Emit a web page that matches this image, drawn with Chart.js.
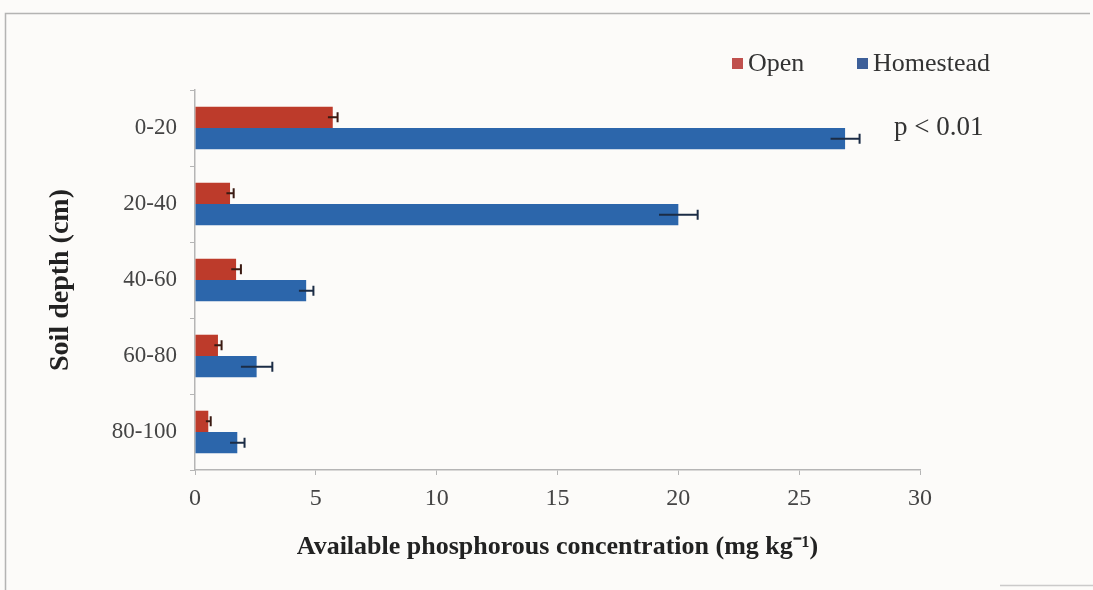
<!DOCTYPE html>
<html>
<head>
<meta charset="utf-8">
<script src="https://cdn.jsdelivr.net/npm/chart.js@4.4.1/dist/chart.umd.min.js"></script>
<style>
  html, body { margin: 0; padding: 0; background: #fcfbf9; }
  canvas { display: block; }
</style>
</head>
<body>
<canvas id="chart" width="1093" height="590"></canvas>
<script>
// Soil depth classes (cm)
const depths = ['0-20', '20-40', '40-60', '60-80', '80-100'];

// Available phosphorus, mg kg-1: means and standard errors
const openMeans = [5.7, 1.45, 1.7, 0.95, 0.55];
const openErrors = [0.2, 0.15, 0.2, 0.15, 0.1];
const homesteadMeans = [26.9, 20.0, 4.6, 2.55, 1.75];
const homesteadErrors = [0.6, 0.8, 0.3, 0.65, 0.3];

const xTicks = [0, 5, 10, 15, 20, 25, 30];
const significanceNote = 'p < 0.01';

const serif = '"Liberation Serif", "Times New Roman", serif';

// Paper-like background and a thin frame around the figure
const framePlugin = {
  id: 'frame',
  beforeDraw(chart) {
    const ctx = chart.ctx;
    ctx.save();
    ctx.fillStyle = '#fcfbf9';
    ctx.fillRect(0, 0, chart.width, chart.height);
    ctx.strokeStyle = 'rgba(150,150,150,0.7)';
    ctx.lineWidth = 1.5;
    ctx.beginPath();
    ctx.moveTo(5.5, chart.height);
    ctx.lineTo(5.5, 13.5);
    ctx.lineTo(chart.width - 3, 13.5);
    ctx.stroke();
    ctx.strokeStyle = 'rgba(170,170,170,0.6)';
    ctx.beginPath();
    ctx.moveTo(1000, chart.height - 4.5);
    ctx.lineTo(chart.width, chart.height - 4.5);
    ctx.stroke();
    ctx.restore();
  }
};

// Error bars: whisker from mean-err to mean+err with a cap at the outer end
const errorBarPlugin = {
  id: 'errorBars',
  afterDatasetsDraw(chart) {
    const ctx = chart.ctx;
    const xs = chart.scales.x;
    chart.data.datasets.forEach((ds, i) => {
      const meta = chart.getDatasetMeta(i);
      if (meta.hidden) return;
      meta.data.forEach((bar, j) => {
        const mean = ds.data[j];
        const err = ds.errors[j];
        const y = bar.y;
        const x0 = xs.getPixelForValue(mean - err);
        const x1 = xs.getPixelForValue(mean + err);
        const cap = 5;
        ctx.save();
        ctx.strokeStyle = ds.errorColor;
        ctx.lineWidth = 2;
        ctx.beginPath();
        ctx.moveTo(x0, y);
        ctx.lineTo(x1, y);
        ctx.moveTo(x1, y - cap);
        ctx.lineTo(x1, y + cap);
        ctx.stroke();
        ctx.restore();
      });
    });
  }
};

// Legend entries in the upper right, plus the significance note
const legendPlugin = {
  id: 'legendNote',
  afterDraw(chart) {
    const ctx = chart.ctx;
    ctx.save();
    ctx.font = '26px ' + serif;
    ctx.textBaseline = 'middle';
    ctx.textAlign = 'left';
    const yMid = 63;
    const starts = [732, 857];
    chart.data.datasets.forEach((ds, i) => {
      const x = starts[i];
      ctx.fillStyle = ds.legendColor;
      ctx.fillRect(x, yMid - 5, 11, 11);
      ctx.fillStyle = '#333333';
      ctx.fillText(ds.label, x + 16, yMid + 1);
    });
    ctx.font = '27px ' + serif;
    ctx.fillStyle = '#333333';
    ctx.fillText(significanceNote, 894, 128);
    ctx.restore();
  }
};

new Chart(document.getElementById('chart'), {
  type: 'bar',
  data: {
    labels: depths,
    datasets: [
      {
        label: 'Open',
        data: openMeans,
        errors: openErrors,
        backgroundColor: '#bd3b2b',
        legendColor: '#c0504d',
        errorColor: '#3a1a12',
        barPercentage: 1.0,
        categoryPercentage: 0.56
      },
      {
        label: 'Homestead',
        data: homesteadMeans,
        errors: homesteadErrors,
        backgroundColor: '#2c66ab',
        legendColor: '#3d5f99',
        errorColor: '#1b2c45',
        barPercentage: 1.0,
        categoryPercentage: 0.56
      }
    ]
  },
  options: {
    indexAxis: 'y',
    responsive: false,
    animation: false,
    layout: { padding: { left: 42, right: 173, top: 90, bottom: 23 } },
    plugins: {
      legend: { display: false },
      tooltip: { enabled: false }
    },
    scales: {
      x: {
        min: 0,
        max: 30,
        afterBuildTicks(scale) {
          scale.ticks = xTicks.map(v => ({ value: v }));
        },
        afterFit(scale) { scale.height = 97; },
        grid: {
          display: true,
          drawOnChartArea: false,
          drawTicks: true,
          tickLength: 5,
          color: '#b5b5b5'
        },
        border: { display: true, color: '#b5b5b5', width: 1.5 },
        ticks: {
          padding: 9,
          color: '#444444',
          font: { family: serif, size: 24 }
        },
        title: {
          display: true,
          text: 'Available phosphorous concentration (mg kg⁻¹)',
          color: '#222222',
          font: { family: serif, size: 26, weight: 'bold' },
          padding: { top: 4, bottom: 4 }
        }
      },
      y: {
        afterFit(scale) { scale.width = 153; },
        grid: {
          display: true,
          drawOnChartArea: false,
          drawTicks: true,
          tickLength: 5,
          color: '#b5b5b5'
        },
        border: { display: true, color: '#b5b5b5', width: 1.5 },
        ticks: {
          padding: 13,
          color: '#444444',
          font: { family: serif, size: 23 }
        },
        title: {
          display: true,
          text: 'Soil depth (cm)',
          color: '#222222',
          font: { family: serif, size: 28, weight: 'bold' },
          padding: { top: 2, bottom: 4 }
        }
      }
    }
  },
  plugins: [framePlugin, errorBarPlugin, legendPlugin]
});
</script>
</body>
</html>
